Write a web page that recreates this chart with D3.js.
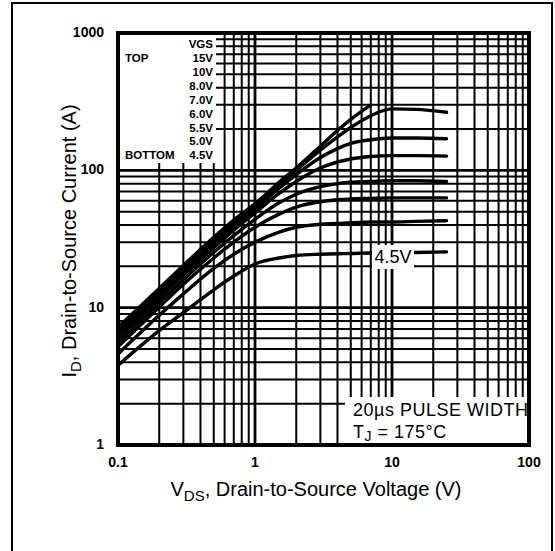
<!DOCTYPE html>
<html>
<head>
<meta charset="utf-8">
<script src="https://cdn.jsdelivr.net/npm/d3@7"></script>
<style>
  body { margin: 0; background: #fff; }
  text { font-family: "Liberation Sans", Arial, sans-serif; fill: #000; }
</style>
</head>
<body>
<svg id="chart" width="555" height="551"></svg>
<script>
// drain voltage sample points (V)
var vds = [0.1, 0.2, 0.3, 0.5, 0.7, 1, 1.5, 2, 3, 4, 5, 7, 10, 15, 25];

// drain current (A) per gate voltage
var id15v = [7.2, 13.8, 20.3, 32.5, 43.5, 57, 82, 104, 150, 195, 235, 300];
var id10v = [6.8, 13.1, 19.3, 30.8, 41.2, 55, 79, 100, 140, 175, 205, 250, 280, 278, 265];
var id8v  = [6.4, 12.4, 18.3, 29, 39, 52, 74, 93, 124, 144, 157, 167, 172, 172, 170];
var id7v  = [6.0, 11.7, 17.2, 27.3, 36.7, 49, 68, 83, 104, 115, 121, 126, 128, 128, 127];
var id6v  = [5.6, 10.9, 16, 25.3, 33.5, 44, 58, 67, 76, 80, 82, 83, 84, 84, 83];
var id55v = [5.2, 10.1, 14.8, 23, 30, 38.5, 48, 54, 59, 61, 62, 62.5, 63, 63, 63];
var id5v  = [4.6, 8.8, 12.6, 19.3, 24.5, 30, 35.5, 38.5, 40.5, 41, 41.5, 42, 42, 42.5, 43];
var id45v = [3.8, 6.8, 9.2, 13.5, 17, 20.8, 23, 24, 24.5, 24.7, 24.8, 25, 25, 25.2, 25.5];

var series = [id15v, id10v, id8v, id7v, id6v, id55v, id5v, id45v];
var legendLabels = ['15V', '10V', '8.0V', '7.0V', '6.0V', '5.5V', '5.0V', '4.5V'];

var xTicks = [0.1, 1, 10, 100];
var xTickLabels = ['0.1', '1', '10', '100'];
var yTicks = [1, 10, 100, 1000];
var yTickLabels = ['1', '10', '100', '1000'];

var plotL = 118, plotR = 529, plotT = 33, plotB = 445;

var svg = d3.select('#chart');

var x = d3.scaleLog().domain([0.1, 100]).range([plotL, plotR]);
var y = d3.scaleLog().domain([1, 1000]).range([plotB, plotT]);

// outer page frame
svg.append('rect')
  .attr('x', 12).attr('y', 3)
  .attr('width', 540).attr('height', 560)
  .attr('fill', 'none')
  .attr('stroke', '#000')
  .attr('stroke-width', 2);

// grid: all the 1..9 lines of each decade
var xGrid = [];
var yGrid = [];
[0.1, 1, 10].forEach(function(d) {
  for (var k = 1; k < 10; k++) xGrid.push(d * k);
});
[1, 10, 100].forEach(function(d) {
  for (var k = 1; k < 10; k++) yGrid.push(d * k);
});

function isDecade(v) {
  var l = Math.log10(v);
  return Math.abs(l - Math.round(l)) < 1e-6;
}

var grid = svg.append('g');
grid.selectAll('line.vx')
  .data(xGrid)
  .enter()
  .append('line')
    .attr('class', 'vx')
    .attr('x1', function(d) { return x(d); })
    .attr('x2', function(d) { return x(d); })
    .attr('y1', plotT)
    .attr('y2', plotB)
    .attr('stroke', '#000')
    .attr('stroke-width', function(d) { return isDecade(d) ? 2.8 : 2; });

grid.selectAll('line.hy')
  .data(yGrid)
  .enter()
  .append('line')
    .attr('class', 'hy')
    .attr('y1', function(d) { return y(d); })
    .attr('y2', function(d) { return y(d); })
    .attr('x1', plotL)
    .attr('x2', plotR)
    .attr('stroke', '#000')
    .attr('stroke-width', function(d) { return isDecade(d) ? 2.8 : 2; });

// white boxes behind legend and note
svg.append('rect')
  .attr('x', plotL).attr('y', plotT)
  .attr('width', 98).attr('height', 130)
  .attr('fill', '#fff');
svg.append('rect')
  .attr('x', 345).attr('y', 397)
  .attr('width', plotR - 345).attr('height', plotB - 397)
  .attr('fill', '#fff');

// curves
var line = d3.line()
  .x(function(d) { return x(d[0]); })
  .y(function(d) { return y(d[1]); })
  .curve(d3.curveMonotoneX);

svg.append('g')
  .selectAll('path')
  .data(series)
  .enter()
  .append('path')
    .attr('d', function(s) {
      return line(s.map(function(v, i) { return [vds[i], v]; }));
    })
    .attr('fill', 'none')
    .attr('stroke', '#000')
    .attr('stroke-width', 3.4)
    .attr('stroke-linecap', 'round');

// 4.5V callout
svg.append('rect')
  .attr('x', 372).attr('y', 245)
  .attr('width', 42).attr('height', 24)
  .attr('fill', '#fff');
svg.append('text')
  .attr('x', 393).attr('y', 263)
  .attr('text-anchor', 'middle')
  .style('font-size', '18px')
  .text('4.5V');

// plot frame
svg.append('rect')
  .attr('x', plotL).attr('y', plotT)
  .attr('width', plotR - plotL).attr('height', plotB - plotT)
  .attr('fill', 'none')
  .attr('stroke', '#000')
  .attr('stroke-width', 4);

// tick labels
svg.selectAll('text.xt')
  .data(xTicks)
  .enter()
  .append('text')
    .attr('class', 'xt')
    .attr('x', function(d) { return x(d); })
    .attr('y', 467)
    .attr('text-anchor', 'middle')
    .style('font-size', '14px')
    .style('font-weight', 'bold')
    .text(function(d, i) { return xTickLabels[i]; });

svg.selectAll('text.yt')
  .data(yTicks)
  .enter()
  .append('text')
    .attr('class', 'yt')
    .attr('x', 104)
    .attr('y', function(d) { return y(d) + 4; })
    .attr('text-anchor', 'end')
    .style('font-size', '14px')
    .style('font-weight', 'bold')
    .text(function(d, i) { return yTickLabels[i]; });

// legend
var legend = svg.append('g')
  .style('font-size', '11.5px')
  .style('font-weight', 'bold');
legend.append('text')
  .attr('x', 213).attr('y', 48)
  .attr('text-anchor', 'end')
  .text('VGS');
legend.selectAll('text.lg')
  .data(legendLabels)
  .enter()
  .append('text')
    .attr('class', 'lg')
    .attr('x', 213)
    .attr('y', function(d, i) { return 62 + i * 13.9; })
    .attr('text-anchor', 'end')
    .text(function(d) { return d; });
legend.append('text')
  .attr('x', 125).attr('y', 62)
  .text('TOP');
legend.append('text')
  .attr('x', 125).attr('y', 62 + 7 * 13.9)
  .text('BOTTOM');

// note
svg.append('text')
  .attr('x', 353).attr('y', 416)
  .style('font-size', '18px')
  .style('letter-spacing', '0.5px')
  .text('20\u00b5s PULSE WIDTH');
var tj = svg.append('text')
  .attr('x', 353).attr('y', 438)
  .style('font-size', '18px')
  .style('letter-spacing', '0.5px');
tj.append('tspan').text('T');
tj.append('tspan').attr('dy', 3).style('font-size', '14px').text('J');
tj.append('tspan').attr('dy', -3).text(' = 175\u00b0C');

// axis titles
var xt = svg.append('text')
  .attr('x', 316).attr('y', 496)
  .attr('text-anchor', 'middle')
  .style('font-size', '20px');
xt.append('tspan').text('V');
xt.append('tspan').attr('dy', 5).style('font-size', '15px').text('DS');
xt.append('tspan').attr('dy', -5).text(', Drain-to-Source Voltage (V)');

var yt = svg.append('text')
  .attr('transform', 'translate(76,241) rotate(-90)')
  .attr('text-anchor', 'middle')
  .style('font-size', '20px');
yt.append('tspan').text('I');
yt.append('tspan').attr('dy', 5).style('font-size', '15px').text('D');
yt.append('tspan').attr('dy', -5).text(',  Drain-to-Source Current (A)');
</script>
</body>
</html>
